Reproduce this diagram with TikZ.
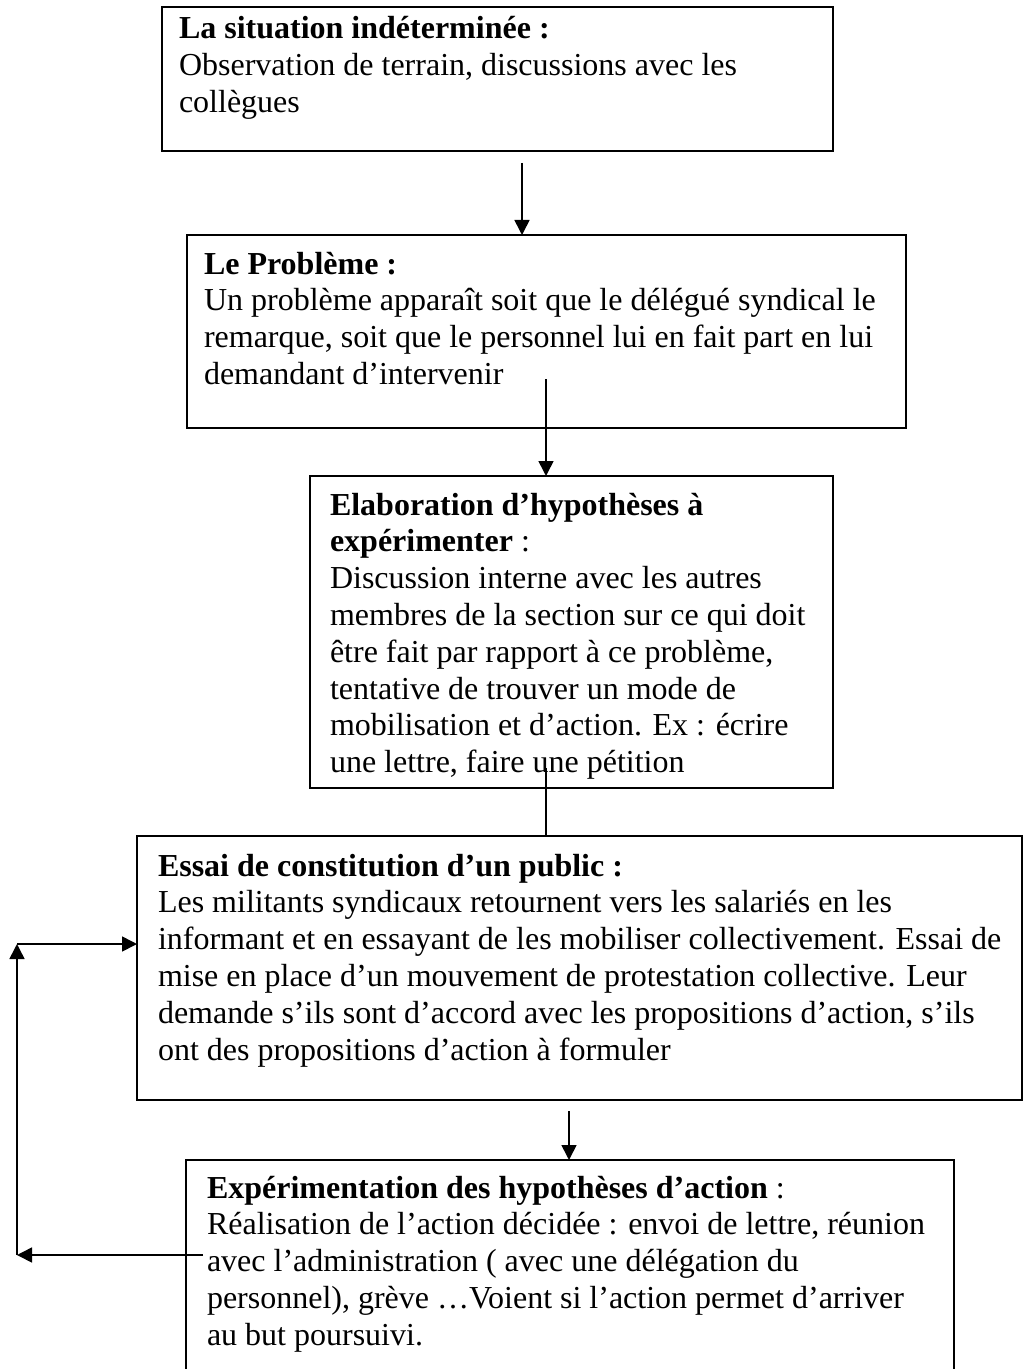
\documentclass[tikz,border=0pt]{standalone}
\usepackage{fontspec}
\setmainfont{Liberation Serif}
\usetikzlibrary{arrows.meta}
\tikzset{
  box/.style={draw, line width=1.6bp, rectangle, inner sep=0pt, outer sep=0pt, anchor=north west},
  txt/.style={inner sep=0pt, outer sep=0pt, anchor=base west, font=\fontsize{32bp}{36.8bp}\selectfont},
  conn/.style={line width=1.6bp},
  arr/.style={conn, -{Triangle[length=15bp,width=15bp]}},
}
\newcommand{\lines}[1]{\begin{tabular}[t]{@{}l@{}}#1\end{tabular}}
\begin{document}
\begin{tikzpicture}[x=1bp,y=-1bp]
\useasboundingbox (0,0) rectangle (1024,1369);
\begin{scope}
\clip (0,0) rectangle (1024,1369);
% boxes
\node[box, minimum width=671bp, minimum height=144bp] (b1) at (162,7) {};
\node[box, minimum width=719bp, minimum height=193bp] (b2) at (187,235) {};
\node[box, minimum width=523bp, minimum height=312bp] (b3) at (310,476) {};
\node[box, minimum width=885bp, minimum height=264bp] (b4) at (137,836) {};
\node[box, minimum width=768bp, minimum height=260bp] (b5) at (186,1160) {};
% texts
\node[txt] (t1) at (179,39) {\lines{\textbf{La situation indéterminée :}\\
Observation de terrain, discussions avec les\\
collègues}};
\node[txt] (t2) at (204,274) {\lines{\textbf{Le Problème :}\\
Un problème apparaît soit que le délégué syndical le\\
remarque, soit que le personnel lui en fait part en lui\\
demandant d’intervenir}};
\node[txt] (t3) at (330,515) {\lines{\textbf{Elaboration d’hypothèses à}\\
\textbf{expérimenter} :\\
Discussion interne avec les autres\\
membres de la section sur ce qui doit\\
être fait par rapport à ce problème,\\
tentative de trouver un mode de\\
mobilisation et d’action. Ex : écrire\\
une lettre, faire une pétition}};
\node[txt] (t4) at (158,876) {\lines{\textbf{Essai de constitution d’un public :}\\
Les militants syndicaux retournent vers les salariés en les\\
informant et en essayant de les mobiliser collectivement. Essai de\\
mise en place d’un mouvement de protestation collective. Leur\\
demande s’ils sont d’accord avec les propositions d’action, s’ils\\
ont des propositions d’action à formuler}};
\node[txt] (t5) at (207,1198) {\lines{\textbf{Expérimentation des hypothèses d’action} :\\
Réalisation de l’action décidée : envoi de lettre, réunion\\
avec l’administration ( avec une délégation du\\
personnel), grève …Voient si l’action permet d’arriver\\
au but poursuivi.}};
% connectors
\coordinate (a1s) at (522,163);
\coordinate (a2s) at (546,379);
\coordinate (a3s) at (546,768);
\coordinate (a4s) at (569,1111);
\coordinate (fbs) at (203,1255);
\coordinate (fbc) at (17,1255);
\coordinate (fbt) at (17,944);
\draw[arr] (a1s) -- (a1s |- b2.north);
\draw[arr] (a2s) -- (a2s |- b3.north);
\draw[conn] (a3s) -- (a3s |- b4.north);
\draw[arr] (a4s) -- (a4s |- b5.north);
\draw[arr] (fbs) -- (fbc);
\draw[arr] (fbc) -- (fbt);
\draw[arr] (fbt) -- (fbt -| b4.west);
\end{scope}
\end{tikzpicture}
\end{document}
